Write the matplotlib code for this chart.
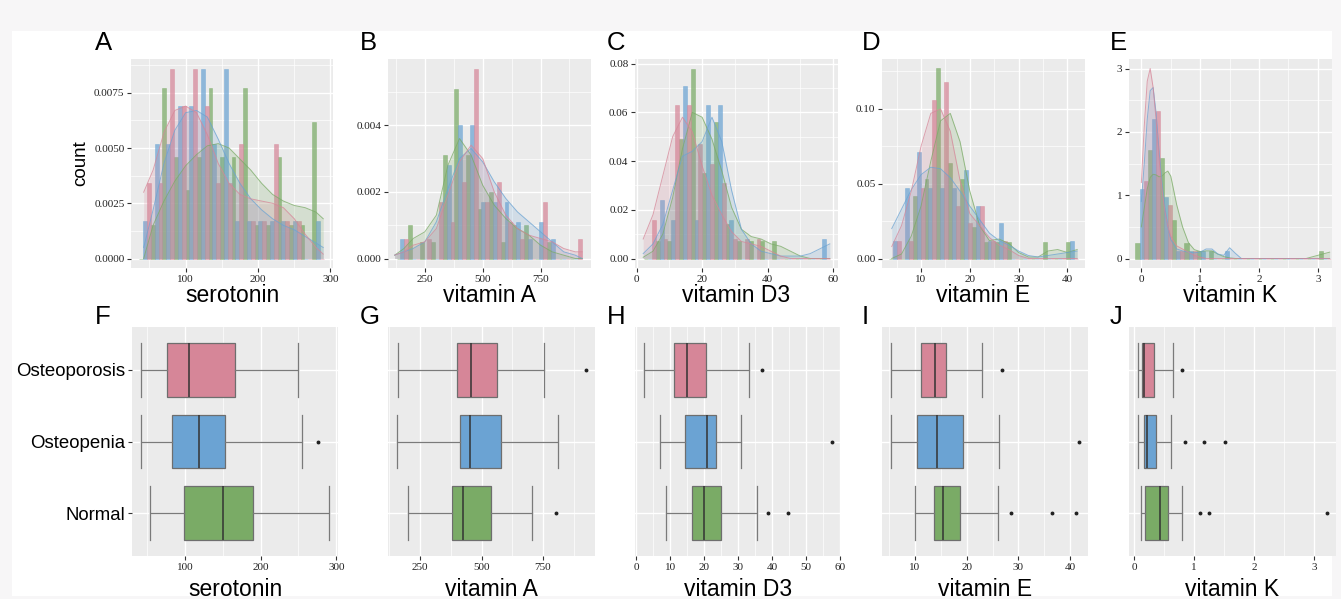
import numpy as np
import matplotlib
matplotlib.use("Agg")
import matplotlib.pyplot as plt
from matplotlib.ticker import MultipleLocator, FormatStrFormatter, FixedLocator
from matplotlib.patches import Rectangle

# ---------------- data ----------------
groups = ["Normal", "Osteopenia", "Osteoporosis"]
group_colors = ["#7AAB66", "#6BA3D3", "#D68698"]
variables = ["serotonin", "vitamin A", "vitamin D3", "vitamin E", "vitamin K"]
top_letters = ["A", "B", "C", "D", "E"]
bottom_letters = ["F", "G", "H", "I", "J"]

# histogram bins (density); bars per bin ordered Normal, Osteopenia, Osteoporosis
serotonin_bins = (36.2, 15.9)
serotonin_hist_normal = [0, .0015, .0077, .0046, .0031, .0046, .0077, .0046, .0046, .0077, .0015, .0015, .0046, .0015, .0015, .0062]
serotonin_hist_osteopenia = [.0017, .0052, .0052, .0069, .0069, .0086, .0052, .0086, .0017, .0017, .0017, .0017, .0017, .0017, 0, .0017]
serotonin_hist_osteoporosis = [.0034, .0034, .0086, .0069, .0086, .0069, .0034, .0034, .0052, .0017, .0017, .0052, .0017, .0017, 0, 0]

vitA_bins = (128, 50)
vitA_hist_normal = [0, .0010, .0005, .0005, .0031, .0051, .0031, .0015, .0020, .0005, .0010, .0010, 0, .0005, 0, 0]
vitA_hist_osteopenia = [.0006, 0, 0, 0, .0028, .0040, .0040, .0017, .0017, .0017, .0011, .0006, .0011, .0006, 0, 0]
vitA_hist_osteoporosis = [.0006, 0, .0006, .0017, .0011, .0023, .0057, .0017, .0023, .0011, .0006, 0, .0017, 0, 0, .0006]

vitD3_bins = (2.3, 3.55)
vitD3_hist_normal = [0, .007, .007, .049, .078, .035, .056, .014, .007, .007, .007, .007, 0, 0, 0, 0]
vitD3_hist_osteopenia = [0, .024, .016, .071, .016, .063, .063, .016, 0, 0, 0, 0, 0, 0, 0, .008]
vitD3_hist_osteoporosis = [.016, .008, .063, .063, .047, .039, .031, .008, .008, .008, 0, 0, 0, 0, 0, 0]

vitE_bins = (3.46, 2.42)
vitE_hist_normal = [0, 0, .042, .053, .127, .064, .053, .021, .011, .011, .011, 0, 0, .011, 0, .011]
vitE_hist_osteopenia = [.012, .047, .071, .047, .047, .047, .059, .035, .012, .024, 0, 0, 0, 0, 0, .012]
vitE_hist_osteoporosis = [.012, .012, .047, .106, .118, .035, .024, .035, .012, .012, 0, 0, 0, 0, 0, 0]

vitK_bins = (-0.10, 0.208)
vitK_hist_normal = [.25, 1.71, 1.59, .61, .24, .12, .12, 0, 0, 0, 0, 0, 0, 0, 0, .12]
vitK_hist_osteopenia = [1.10, 2.20, .97, .12, .12, .12, 0, .12, 0, 0, 0, 0, 0, 0, 0, 0]
vitK_hist_osteoporosis = [1.22, 2.33, .85, .12, .12, 0, 0, 0, 0, 0, 0, 0, 0, 0, 0, 0]

# density curves
serotonin_kde_x = [42, 55, 70, 85, 100, 115, 130, 145, 160, 175, 190, 205, 220, 235, 250, 265, 280, 290]
serotonin_kde_normal = [.0000, .0015, .0026, .0035, .0042, .0047, .0051, .0052, .0050, .0045, .0040, .0034, .0029, .0026, .0024, .0023, .0021, .0018]
serotonin_kde_osteopenia = [.0005, .0022, .0043, .0058, .0066, .0067, .0064, .0054, .0043, .0034, .0027, .0022, .0018, .0015, .0013, .0010, .0007, .0005]
serotonin_kde_osteoporosis = [.0030, .0040, .0057, .0067, .0069, .0066, .0056, .0043, .0034, .0029, .0027, .0026, .0025, .0023, .0018, .0011, .0005, .0002]

vitA_kde_x = [120, 160, 200, 250, 300, 350, 400, 450, 500, 550, 600, 650, 700, 750, 800, 850, 900, 930]
vitA_kde_normal = [.0001, .0003, .0006, .0008, .0013, .0028, .0036, .0031, .0022, .0016, .0012, .0009, .0007, .0004, .0002, .0001, 0, 0]
vitA_kde_osteopenia = [.0001, .0002, .0003, .0005, .0011, .0021, .0030, .0033, .0029, .0023, .0018, .0014, .0011, .0008, .0005, .0002, .0001, 0]
vitA_kde_osteoporosis = [.0001, .0002, .0004, .0005, .0009, .0019, .0029, .0034, .0030, .0020, .0013, .0009, .0007, .0006, .0005, .0003, .0002, .0002]

vitD3_kde_x = [2, 5, 8, 11, 14, 17, 20, 23, 26, 29, 32, 35, 38, 41, 44, 47, 50, 53, 56, 59]
vitD3_kde_normal = [.0005, .003, .010, .025, .045, .060, .058, .049, .036, .021, .012, .009, .008, .006, .005, .003, .001, 0, 0, 0]
vitD3_kde_osteopenia = [.002, .006, .014, .028, .042, .044, .048, .058, .048, .028, .012, .006, .003, .002, .001, .001, .001, .002, .004, .006]
vitD3_kde_osteoporosis = [.008, .018, .034, .050, .058, .052, .038, .026, .018, .011, .007, .006, .005, .003, .001, 0, 0, 0, 0, 0]

vitE_kde_x = [4, 6, 8, 10, 12, 14, 16, 18, 20, 22, 24, 26, 28, 30, 32, 34, 36, 38, 40, 42]
vitE_kde_normal = [0, .003, .015, .035, .065, .092, .097, .078, .045, .022, .012, .013, .010, .004, .001, .001, .005, .006, .004, .006]
vitE_kde_osteopenia = [.020, .033, .046, .056, .061, .060, .054, .045, .035, .026, .017, .012, .009, .005, .002, .001, .002, .003, .004, .005]
vitE_kde_osteoporosis = [.008, .022, .045, .075, .097, .100, .085, .052, .030, .022, .014, .009, .006, .002, 0, 0, 0, 0, 0, 0]

vitK_kde_x = [0.0, 0.05, 0.1, 0.15, 0.2, 0.25, 0.3, 0.35, 0.4, 0.45, 0.5, 0.6, 0.7, 0.8, 0.9, 1.0, 1.1, 1.2, 1.3, 1.4, 1.5, 1.6, 1.7, 2.0, 2.5, 2.8, 3.0, 3.2]
vitK_kde_normal = [.5, .8, 1.1, 1.28, 1.33, 1.32, 1.29, 1.30, 1.35, 1.38, 1.30, .85, .50, .25, .14, .11, .12, .12, .07, .03, .01, 0, 0, 0, 0, 0, .05, .10]
vitK_kde_osteopenia = [.9, 1.5, 2.2, 2.65, 2.7, 2.3, 1.7, 1.2, .8, .5, .3, .15, .12, .10, .09, .10, .15, .15, .07, .05, .17, .08, 0, 0, 0, 0, 0, 0]
vitK_kde_osteoporosis = [1.2, 2.1, 2.8, 3.0, 2.7, 2.2, 1.6, 1.1, .75, .5, .35, .2, .15, .10, .05, .02, 0, 0, 0, 0, 0, 0, 0, 0, 0, 0, 0, 0]

# box plot summaries: [whisker low, q1, median, q3, whisker high] and outliers
serotonin_box_normal, serotonin_out_normal = [53.9, 99.1, 149.6, 190.4, 289.9], []
serotonin_box_osteopenia, serotonin_out_osteopenia = [42, 82.9, 118.9, 152.6, 254.8], [275.4]
serotonin_box_osteoporosis, serotonin_out_osteoporosis = [42, 75.9, 104.8, 165.8, 249], []

vitA_box_normal, vitA_out_normal = [201, 378, 424, 538, 705], [804]
vitA_box_osteopenia, vitA_out_osteopenia = [158, 411, 453, 580, 809], []
vitA_box_osteoporosis, vitA_out_osteoporosis = [162, 401, 459, 561, 753], [923]

vitD3_box_normal, vitD3_out_normal = [8.7, 16.4, 19.9, 24.9, 35.4], [38.7, 44.8]
vitD3_box_osteopenia, vitD3_out_osteopenia = [7.1, 14.5, 20.7, 23.6, 30.7], [57.5]
vitD3_box_osteoporosis, vitD3_out_osteoporosis = [2.4, 11.2, 15.0, 20.5, 33.3], [37.1]

vitE_box_normal, vitE_out_normal = [10.0, 13.8, 15.4, 18.8, 26.0], [28.5, 36.5, 41.1]
vitE_box_osteopenia, vitE_out_osteopenia = [5.5, 10.5, 14.3, 19.4, 26.2], [41.6]
vitE_box_osteoporosis, vitE_out_osteoporosis = [5.5, 11.3, 13.9, 16.1, 23.0], [26.9]

vitK_box_normal, vitK_out_normal = [0.11, 0.18, 0.43, 0.56, 0.79], [1.10, 1.24, 3.21]
vitK_box_osteopenia, vitK_out_osteopenia = [0.07, 0.16, 0.22, 0.36, 0.62], [0.84, 1.16, 1.52]
vitK_box_osteoporosis, vitK_out_osteoporosis = [0.07, 0.13, 0.17, 0.33, 0.65], [0.79]

# ---------------- assemble ----------------
hist_bins = [serotonin_bins, vitA_bins, vitD3_bins, vitE_bins, vitK_bins]
hist_vals = [
    [serotonin_hist_normal, serotonin_hist_osteopenia, serotonin_hist_osteoporosis],
    [vitA_hist_normal, vitA_hist_osteopenia, vitA_hist_osteoporosis],
    [vitD3_hist_normal, vitD3_hist_osteopenia, vitD3_hist_osteoporosis],
    [vitE_hist_normal, vitE_hist_osteopenia, vitE_hist_osteoporosis],
    [vitK_hist_normal, vitK_hist_osteopenia, vitK_hist_osteoporosis],
]
kde_x = [serotonin_kde_x, vitA_kde_x, vitD3_kde_x, vitE_kde_x, vitK_kde_x]
kde_vals = [
    [serotonin_kde_normal, serotonin_kde_osteopenia, serotonin_kde_osteoporosis],
    [vitA_kde_normal, vitA_kde_osteopenia, vitA_kde_osteoporosis],
    [vitD3_kde_normal, vitD3_kde_osteopenia, vitD3_kde_osteoporosis],
    [vitE_kde_normal, vitE_kde_osteopenia, vitE_kde_osteoporosis],
    [vitK_kde_normal, vitK_kde_osteopenia, vitK_kde_osteoporosis],
]
box_vals = [
    [(serotonin_box_normal, serotonin_out_normal), (serotonin_box_osteopenia, serotonin_out_osteopenia), (serotonin_box_osteoporosis, serotonin_out_osteoporosis)],
    [(vitA_box_normal, vitA_out_normal), (vitA_box_osteopenia, vitA_out_osteopenia), (vitA_box_osteoporosis, vitA_out_osteoporosis)],
    [(vitD3_box_normal, vitD3_out_normal), (vitD3_box_osteopenia, vitD3_out_osteopenia), (vitD3_box_osteoporosis, vitD3_out_osteoporosis)],
    [(vitE_box_normal, vitE_out_normal), (vitE_box_osteopenia, vitE_out_osteopenia), (vitE_box_osteoporosis, vitE_out_osteoporosis)],
    [(vitK_box_normal, vitK_out_normal), (vitK_box_osteopenia, vitK_out_osteopenia), (vitK_box_osteoporosis, vitK_out_osteoporosis)],
]

# ---------------- style / layout ----------------
W, H = 1341, 599
SANS = "Liberation Sans"
SERIF = "Liberation Serif"
PANEL_BG = "#EBEBEB"

top_xlim = [(24.5, 303.5), (91, 968), (-0.5, 61.5), (2.0, 43.6), (-0.21, 3.24)]
top_xmajor = [100, 250, 20, 10, 1]
top_ymajor = [0.0025, 0.002, 0.02, 0.05, 1]
top_yfmt = ["%.4f", "%.3f", "%.2f", "%.2f", "%d"]
bot_xmajor = [100, 250, 10, 10, 1]

top_left = [131, 388, 635, 882, 1129]
top_width = [202, 203, 203, 203, 203]
bot_left = [132, 388, 635, 882, 1129]
bot_width = [206, 207, 206, 206, 207]
letter_x = [95, 360, 607, 862, 1110]

fig = plt.figure(figsize=(W / 100, H / 100), dpi=100, facecolor="#F7F6F7")
fig.patches.append(Rectangle((12 / W, 1 - 596 / H), (1332 - 12) / W, (596 - 31) / H,
                             transform=fig.transFigure, facecolor="white",
                             edgecolor="none", zorder=-10))


def style_axis(ax):
    ax.set_facecolor(PANEL_BG)
    for s in ax.spines.values():
        s.set_visible(False)
    ax.grid(which="major", color="white", linewidth=1.0)
    ax.grid(which="minor", color="white", linewidth=0.5)
    ax.set_axisbelow(True)
    ax.tick_params(which="major", length=3.2, width=0.8, color="#333333",
                   labelsize=8, labelcolor="#222222", pad=1.5)
    ax.tick_params(which="minor", length=0)
    for lab in ax.get_xticklabels() + ax.get_yticklabels():
        lab.set_fontfamily(SERIF)


def px_rect(left, top, width, height):
    return [left / W, 1 - (top + height) / H, width / W, height / H]


for i in range(5):
    # ----- histogram + density -----
    ax = fig.add_axes(px_rect(top_left[i], 59, top_width[i], 209))
    start, bw = hist_bins[i]
    nb = len(hist_vals[i][0])
    edges = start + bw * np.arange(nb)
    ymax = 0
    for g in range(3):
        h = np.array(hist_vals[i][g])
        ax.bar(edges + g * bw / 3, h, width=bw / 3, align="edge",
               color=group_colors[g], alpha=0.72, edgecolor=group_colors[g],
               linewidth=0.4, zorder=2)
        ymax = max(ymax, h.max())
    for g in range(3):
        y = np.array(kde_vals[i][g])
        ax.fill_between(kde_x[i], y, 0, color=group_colors[g], alpha=0.2,
                        linewidth=0, zorder=3)
        ax.plot(kde_x[i], y, color=group_colors[g], alpha=0.75, linewidth=0.7,
                zorder=4)
        ymax = max(ymax, y.max())
    ax.xaxis.set_major_locator(MultipleLocator(top_xmajor[i]))
    ax.xaxis.set_minor_locator(MultipleLocator(top_xmajor[i] / 2))
    ax.yaxis.set_major_locator(MultipleLocator(top_ymajor[i]))
    ax.yaxis.set_minor_locator(MultipleLocator(top_ymajor[i] / 2))
    ax.yaxis.set_major_formatter(FormatStrFormatter(top_yfmt[i]))
    ax.set_xlim(*top_xlim[i])
    ax.set_ylim(-0.05 * ymax, 1.05 * ymax)
    style_axis(ax)

    fig.text(letter_x[i] / W, 1 - 43 / H, top_letters[i], fontsize=18.5,
             family=SANS, ha="left", va="center")
    cx = (top_left[i] + top_width[i] / 2) / W
    fig.text(cx, 1 - 295 / H, variables[i], fontsize=16.5, family=SANS,
             ha="center", va="center")

    # ----- boxplot -----
    bx = fig.add_axes(px_rect(bot_left[i], 327, bot_width[i], 229))
    stats = []
    allv = []
    for g in range(3):
        five, outl = box_vals[i][g]
        stats.append(dict(whislo=five[0], q1=five[1], med=five[2], q3=five[3],
                          whishi=five[4], fliers=outl, label=groups[g]))
        allv += list(five) + list(outl)
    kw = dict(positions=[1, 2, 3], widths=0.75, patch_artist=True,
              showfliers=True, capwidths=0.75,
              boxprops=dict(edgecolor="#6E6E6E", linewidth=0.9),
              medianprops=dict(color="#333333", linewidth=1.1),
              whiskerprops=dict(color="#7A7A7A", linewidth=0.9),
              capprops=dict(color="#7A7A7A", linewidth=0.9),
              flierprops=dict(marker="o", markersize=1.8, markerfacecolor="#222222",
                              markeredgecolor="#222222"))
    try:
        art = bx.bxp(stats, orientation="horizontal", **kw)
    except TypeError:
        art = bx.bxp(stats, vert=False, **kw)
    for g, patch in enumerate(art["boxes"]):
        patch.set_facecolor(group_colors[g])
    lo, hi = min(allv), max(allv)
    pad = 0.05 * (hi - lo)
    bx.xaxis.set_major_locator(MultipleLocator(bot_xmajor[i]))
    bx.xaxis.set_minor_locator(MultipleLocator(bot_xmajor[i] / 2))
    bx.yaxis.set_major_locator(FixedLocator([1, 2, 3]))
    bx.set_xlim(lo - pad, hi + pad)
    bx.set_ylim(0.4, 3.6)
    style_axis(bx)
    if i == 0:
        bx.set_yticklabels(groups, fontsize=13.4, family=SANS, color="black")
        bx.tick_params(axis="y", pad=1.5)
    else:
        bx.set_yticklabels([])
        bx.tick_params(axis="y", length=0)

    fig.text(letter_x[i] / W, 1 - 317 / H, bottom_letters[i], fontsize=18.5,
             family=SANS, ha="left", va="center")
    cx = (bot_left[i] + bot_width[i] / 2) / W
    fig.text(cx, 1 - 589 / H, variables[i], fontsize=16.5, family=SANS,
             ha="center", va="center")

fig.text(81 / W, 1 - 163 / H, "count", fontsize=13.5, family=SANS,
         rotation=90, ha="center", va="center")

fig.savefig("out.png", dpi=100, facecolor=fig.get_facecolor())
